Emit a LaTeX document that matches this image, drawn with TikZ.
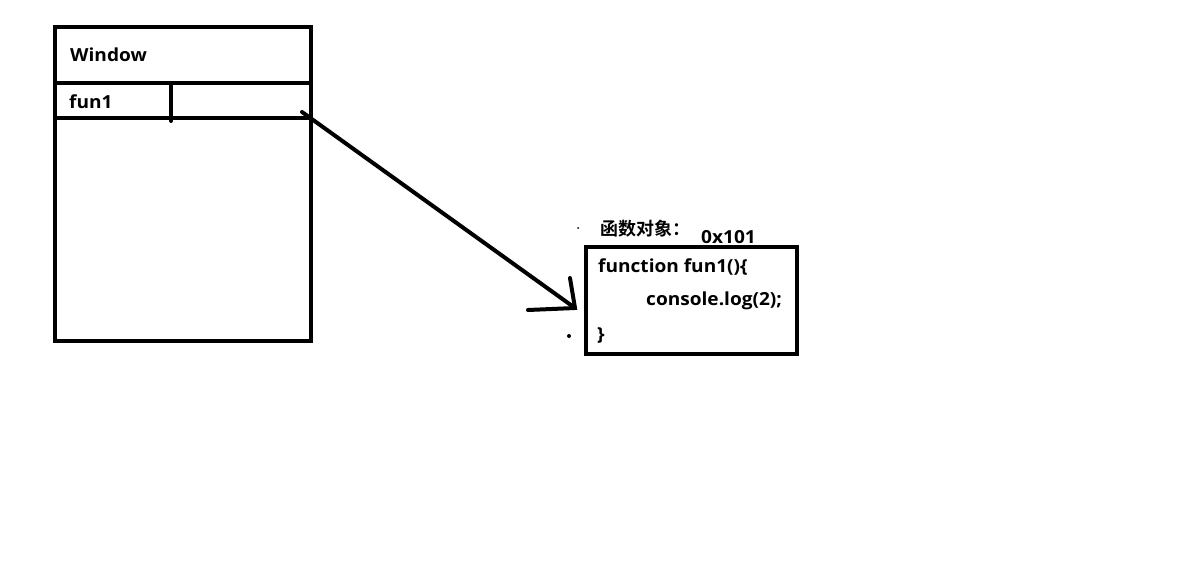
\documentclass[tikz,border=0pt]{standalone}
\usepackage{fontspec}
\setmainfont{Open Sans}[BoldFont={* Bold}, BoldFeatures={FakeStretch=1.06}]
\newfontfamily\cjkfont{Noto Sans CJK SC}[BoldFont={* Bold}]
\begin{document}
\begin{tikzpicture}[x=1pt,y=-1pt,
  heavy/.style={line width=4pt},
  lbl/.style={font=\bfseries\fontsize{18}{20}\selectfont, anchor=west, inner sep=0pt}]
\useasboundingbox[fill=white] (0,0) rectangle (1204,586);
% Window box
\draw[heavy] (55,27) rectangle (311,341);
\draw[heavy] (53,83) -- (311,83);
\draw[heavy] (53,118) -- (311,118);
\draw[heavy, line cap=round] (171,83) -- (171,121);
\node[lbl] (win) at (70,55) {Window};
\node[lbl] (fun) at (69,102) {fun1};
\coordinate (slot) at (302,112);
% function object box
\node[draw, line width=4pt, minimum width=211pt, minimum height=107pt, inner sep=0pt] (obj) at (691.5,300.5) {};
\node[lbl, font=\cjkfont\bfseries\fontsize{18}{20}\selectfont] (title) at (600,229) {函数对象：};
\node[lbl] (addr) at (701,237) {0x101};
\node[lbl] (l1) at (598,267) {function fun1()\{};
\node[lbl] (l2) at (646,301) {console.log(2);};
\node[lbl] (l3) at (597,335) {\}};
\coordinate (tip) at (575,308);
\draw[heavy, line cap=round] (slot) -- (tip);
\draw[heavy, line cap=round] (570,278) -- (tip) -- (528,310);
\fill (569,336) circle (2pt);
\fill (578,228) circle (1pt);
\end{tikzpicture}
\end{document}
